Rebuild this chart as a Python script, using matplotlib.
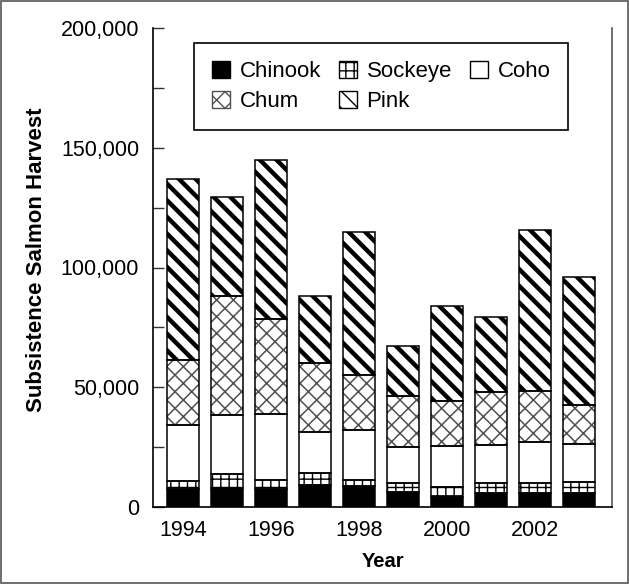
import matplotlib
matplotlib.use("Agg")
import matplotlib.pyplot as plt
import numpy as np
from matplotlib.patches import Patch, Rectangle
from matplotlib.ticker import FuncFormatter, MultipleLocator

plt.rcParams["font.family"] = ["Liberation Sans", "DejaVu Sans"]

years = [1994, 1995, 1996, 1997, 1998, 1999, 2000, 2001, 2002, 2003]
species = ["Chinook", "Sockeye", "Coho", "Chum", "Pink"]
chinook = [7400, 7800, 7500, 9200, 8700, 6100, 4300, 5700, 5700, 5700]
sockeye = [3600, 5800, 3800, 5100, 2500, 3800, 3900, 4400, 4400, 4900]
coho = [23400, 24700, 27400, 17100, 20900, 15200, 17300, 15700, 16900, 15500]
chum = [27100, 49600, 39600, 28900, 22900, 21400, 18800, 22100, 21300, 16400]
pink = [75400, 41400, 66700, 28000, 59700, 20700, 39700, 31500, 67400, 53700]

# fill, hatch, hatch colour, hatch linewidth
styles = {
    "Chinook": ("black", "", "black", 1.0),
    "Sockeye": ("white", "++", "black", 1.0),
    "Coho": ("white", "", "black", 1.0),
    "Chum": ("white", "xx", "#505050", 1.1),
    "Pink": ("white", "\\\\", "black", 3.2),
}

fig = plt.figure(figsize=(6.29, 5.84), dpi=100)
ax = fig.add_axes([153 / 629, 1 - 507 / 584, 459 / 629, 479 / 584])

series = [chinook, sockeye, coho, chum, pink]
bottom = np.zeros(len(years))
width = 0.73
for name, vals in zip(species, series):
    fill, hatch, hcol, hlw = styles[name]
    vals = np.array(vals, dtype=float)
    # hatch layer
    with plt.rc_context({"hatch.linewidth": hlw}):
        bars = ax.bar(years, vals, width, bottom=bottom, color=fill,
                      edgecolor=hcol, hatch=hatch, linewidth=0, zorder=2)
        for b in bars:
            if hasattr(b, "set_hatch_linewidth"):
                b.set_hatch_linewidth(hlw)
    # outline layer
    ax.bar(years, vals, width, bottom=bottom, color="none",
           edgecolor="black", linewidth=1.1, zorder=3)
    bottom += vals

ax.set_xlim(1993.32, 2003.75)
ax.set_ylim(0, 200000)
ax.set_xticks(years)
ax.set_xticklabels([str(y) if y % 2 == 0 else "" for y in years])
ax.yaxis.set_major_locator(MultipleLocator(50000))
ax.yaxis.set_minor_locator(MultipleLocator(25000))
ax.yaxis.set_major_formatter(FuncFormatter(lambda v, p: f"{int(v):,}"))
ax.tick_params(axis="both", which="both", direction="in", length=8,
               width=1, labelsize=15.5, color="#333333")
ax.tick_params(axis="y", pad=10)
ax.tick_params(axis="x", pad=9)
ax.spines["top"].set_visible(False)
for s in ["left", "right", "bottom"]:
    ax.spines[s].set_linewidth(1.2)
ax.spines["right"].set_color("#555555")

ax.set_xlabel("Year", fontsize=14.5, fontweight="bold", labelpad=8)
ax.set_ylabel("Subsistence Salmon Harvest", fontsize=16, fontweight="bold")
ax.yaxis.set_label_coords(-0.232, 0.516)

handles = {}
for name in species:
    fill, hatch, hcol, hlw = styles[name]
    with plt.rc_context({"hatch.linewidth": min(hlw, 2.0)}):
        h = Patch(facecolor=fill, edgecolor="black" if name != "Chum" else "#505050",
                  hatch=hatch, linewidth=1)
    handles[name] = h
order = ["Chinook", "Chum", "Sockeye", "Pink", "Coho"]
leg = ax.legend([handles[n] for n in order], order, ncol=3, loc="upper center",
                bbox_to_anchor=(0.497, 0.969), borderaxespad=0, fontsize=16,
                frameon=True, fancybox=False, framealpha=1, edgecolor="black",
                handlelength=0.8, handleheight=0.8, handletextpad=0.45,
                columnspacing=0.8, labelspacing=0.4, borderpad=0.8)
leg.get_frame().set_linewidth(1.2)

fig.patches.append(Rectangle((0.002, 0.002), 0.996, 0.996, transform=fig.transFigure,
                             fill=False, edgecolor="#555555", linewidth=1.2))

fig.savefig("out.png", dpi=100)
